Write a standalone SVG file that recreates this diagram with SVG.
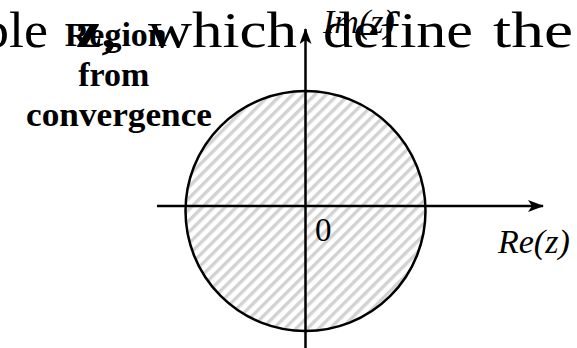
<svg xmlns="http://www.w3.org/2000/svg" width="577" height="348" viewBox="0 0 577 348">
  <style>
    .bg { font-family: "Liberation Serif", "Times New Roman", serif; font-size: 50px; fill: #000; }
    .lbl { font-family: "Liberation Serif", "Times New Roman", serif; font-size: 34px; font-weight: bold; fill: #000; }
    .ax { font-family: "Liberation Serif", "Times New Roman", serif; font-size: 34px; font-style: italic; fill: #000; }
    .num { font-family: "Liberation Serif", "Times New Roman", serif; font-size: 33px; fill: #000; }
    .axis { stroke: #000; stroke-width: 2.5; fill: none; }
  </style>
  <defs>
    <pattern id="hatch" patternUnits="userSpaceOnUse" width="8" height="8" patternTransform="rotate(45)">
      <rect x="0" y="0" width="8" height="8" fill="#ffffff"/>
      <rect x="0" y="0" width="3.4" height="8" fill="#d2d2d2"/>
    </pattern>
    <marker id="arrow" viewBox="0 0 16 12" refX="15" refY="6" markerWidth="16" markerHeight="12" markerUnits="userSpaceOnUse" orient="auto">
      <path d="M0,0 L16,6 L0,12 L4,6 z" fill="#000"/>
    </marker>
  </defs>

  <g id="background-text">
    <text class="bg" y="47">
      <tspan x="-18" textLength="66" lengthAdjust="spacingAndGlyphs">ple</tspan>
      <tspan x="76" font-weight="bold" textLength="40" lengthAdjust="spacingAndGlyphs">z,</tspan>
      <tspan x="148" textLength="149" lengthAdjust="spacingAndGlyphs">which</tspan>
      <tspan x="323" textLength="150" lengthAdjust="spacingAndGlyphs">define</tspan>
      <tspan x="493" textLength="80" lengthAdjust="spacingAndGlyphs">the</tspan>
    </text>
  </g>

  <g id="region">
    <circle cx="305.5" cy="211" r="120" fill="url(#hatch)" stroke="#000" stroke-width="2.5"/>
  </g>

  <g id="connectors">
    <line class="axis" x1="157" y1="206" x2="543" y2="206" marker-end="url(#arrow)"/>
    <line class="axis" x1="305.5" y1="348" x2="305.5" y2="29" marker-end="url(#arrow)"/>
  </g>

  <g id="label-region">
    <text class="lbl" text-anchor="middle">
      <tspan x="120" y="46">Region</tspan>
      <tspan x="118" y="86">from</tspan>
      <tspan x="119" y="126" textLength="186" lengthAdjust="spacingAndGlyphs">convergence</tspan>
    </text>
  </g>

  <g id="label-im">
    <text class="ax" x="323" y="33">Im(z)</text>
  </g>

  <g id="label-re">
    <text class="ax" x="498" y="253">Re(z)</text>
  </g>

  <g id="label-origin">
    <text class="num" x="315" y="241">0</text>
  </g>
</svg>
